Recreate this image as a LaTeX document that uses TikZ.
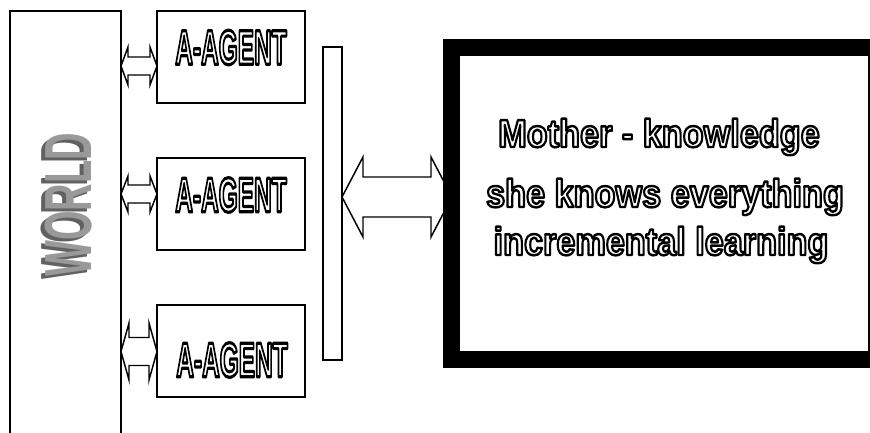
\documentclass[tikz,border=0pt]{standalone}
\usepackage{fontspec}
\setmainfont{Liberation Sans}
\usepackage{graphicx}
\usetikzlibrary{calc}
\newcommand\olt[2]{\special{pdf:literal direct #1 w 1 j 1 Tr}#2\special{pdf:literal direct 0 Tr}}
\newcommand\agenttxt{\scalebox{0.5}[1]{\fontsize{36.7}{40}\selectfont\bfseries\olt{2.4}{A-AGENT}}}
\newcommand\mline[1]{\scalebox{1.07}[1.22]{\fontsize{24}{28}\selectfont\bfseries\olt{1.5}{#1}}}
\newcommand\worldtxt{\scalebox{0.57}[1]{\fontsize{50}{54}\selectfont\bfseries WORLD}}
\newcommand\dblarr[5]{%
  \draw[dbl] (#1) -- ($(#1)+(#5,-#3)$) -- ($(#1)+(#5,-#4)$) -- ($(#2)+(-#5,-#4)$)
    -- ($(#2)+(-#5,-#3)$) -- (#2) -- ($(#2)+(-#5,#3)$) -- ($(#2)+(-#5,#4)$)
    -- ($(#1)+(#5,#4)$) -- ($(#1)+(#5,#3)$) -- cycle;}
\begin{document}
\begin{tikzpicture}[x=0.75pt,y=-0.75pt]
\def\u{0.75pt}
\tikzset{
  blk/.style={draw, line width=1.1pt, inner sep=0pt, outer sep=0pt, anchor=north west, fill=white},
  dbl/.style={draw, line width=1.1pt, fill=white, line join=miter},
  outl/.style={text=black, inner sep=0pt},
}
\useasboundingbox (0,0) rectangle (870,432);
\clip (0,0) rectangle (870,432);
% world
\node[blk, minimum width=111*\u, minimum height=440*\u] (world) at (10,11) {};
\node[rotate=90, text=black!62, inner sep=0pt] (wshadow) at (65,208) {\worldtxt};
\node[rotate=90, text=black!40, inner sep=0pt] (wtext) at (69,205) {\worldtxt};
% agents
\node[blk, minimum width=148*\u, minimum height=92*\u] (ag1) at (157,11) {};
\node[blk, minimum width=148*\u, minimum height=92*\u] (ag2) at (157,158) {};
\node[blk, minimum width=148*\u, minimum height=92*\u] (ag3) at (157,305) {};
\node[outl] (t1) at (231,47.5) {\agenttxt};
\node[outl] (t2) at (231,195) {\agenttxt};
\node[outl] (t3) at (232,360) {\agenttxt};
% small arrows
\coordinate (y1) at (0,66);
\coordinate (y2) at (0,194);
\coordinate (y3) at (0,351.5);
\coordinate (y4) at (0,197);
\coordinate (a1l) at (world.east |- y1);
\coordinate (a1r) at (ag1.west |- y1);
\coordinate (a2l) at (world.east |- y2);
\coordinate (a2r) at (ag2.west |- y2);
\coordinate (a3l) at (world.east |- y3);
\coordinate (a3r) at (ag3.west |- y3);
\dblarr{a1l}{a1r}{19}{9}{7}
\dblarr{a2l}{a2r}{18}{9}{7}
\dblarr{a3l}{a3r}{28.5}{14}{8}
% bar
\node[blk, minimum width=19*\u, minimum height=313*\u] (bar) at (323,47) {};
% big arrow (behind mother)
\coordinate (b1l) at (bar.east |- y4);
\coordinate (b1r) at (452,197);
\dblarr{b1l}{b1r}{40}{20}{21}
% mother
\node[draw, line width=17*\u, inner sep=0pt, outer sep=0pt, minimum width=425*\u, minimum height=312*\u,
      anchor=north west, fill=white] (mother) at (451.5,47.5) {};
\node[outl, anchor=base] (m1) at (659,147) {\mline{Mother - knowledge}};
\node[outl, anchor=base] (m2) at (665,207) {\mline{she knows everything}};
\node[outl, anchor=base] (m3) at (661,255) {\mline{incremental learning}};
\end{tikzpicture}
\end{document}
